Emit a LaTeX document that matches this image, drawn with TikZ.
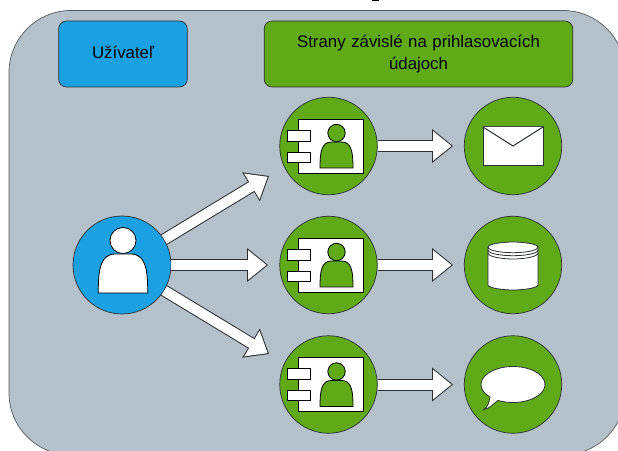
\documentclass[tikz,border=0pt]{standalone}
\usepackage{fontspec}
\setmainfont{Liberation Sans}
\usetikzlibrary{arrows.meta}

\definecolor{sedá}{HTML}{B5C1CA}
\definecolor{modrá}{HTML}{1BA1E2}
\definecolor{zelená}{HTML}{60A917}
\definecolor{obrys}{HTML}{2B2F33}

\tikzstyle{line} = [draw=obrys, line width=12pt, -{Triangle[length=21pt,width=34pt,line width=0pt]}, postaction={draw=white, line width=10pt, shorten >=1.6pt, -{Triangle[length=18.4pt,width=29.8pt,line width=0pt]}}]
\tikzstyle{pozadie} = [draw=obrys!70!sedá, rectangle, fill=sedá, minimum width=616pt, minimum height=444.5pt, rounded corners=62pt, line width=0.7pt]
\tikzstyle{box1} = [draw=obrys, rectangle, fill=modrá, text width=122pt, text centered, minimum height=66pt, rounded corners=8pt, line width=0.7pt, text depth=4pt, font=\fontsize{16.8}{22}\selectfont]
\tikzstyle{box2} = [draw=obrys, rectangle, fill=zelená, text width=302pt, text centered, minimum height=66pt, rounded corners=8pt, line width=0.7pt, font=\fontsize{16.8}{22}\selectfont]
\tikzstyle{krug1} = [draw=obrys, circle, fill=modrá, minimum size=98pt, inner sep=0pt, line width=0.7pt]
\tikzstyle{krug2} = [draw=obrys, circle, fill=zelená, minimum size=97.5pt, inner sep=0pt, line width=0.7pt]
\tikzstyle{ikona} = [draw=black, fill=white, line width=0.8pt]

% osoba: stred uzla, posun, mierka, vypln
\newcommand{\osoba}[4]{
\begin{scope}[shift={(#1.center)}, shift={(#2)}, scale=#3]
\draw [ikona, fill=#4] (0,35) circle (8.7);
\draw [ikona, fill=#4] (-16.5,0) .. controls (-16.5,16) and (-15,26) .. (-5,26) -- (5,26) .. controls (15,26) and (16.5,16) .. (16.5,0) -- cycle;
\end{scope}
}
% strana s prihlasovanim
\newcommand{\strana}[1]{
\begin{scope}[shift={(#1.center)}]
\draw [ikona] (-30.5,-27) rectangle (34.5,27);
\draw [ikona] (-41.5,5) rectangle (-18.5,16);
\draw [ikona] (-41.5,-16) rectangle (-18.5,-6);
\end{scope}
\osoba{#1}{8,-22}{1}{zelená}
}

\begin{document}
\begin{tikzpicture}[x=1pt, y=1pt, node distance=0mm]
\useasboundingbox (0,0) rectangle (618,450);
% pozadie
\node [pozadie] (plocha) at (317,217.25) {};
% zvysok nadpisu nad okrajom
\draw [line width=2pt] (372,449.5) -- (379,449.5);
% hlavicky
\node [box1] (hlava1) at (123,396) {Užívateľ};
\node [box2, right of=hlava1, xshift=295.5pt] (hlava2) {Strany závislé na prihlasovacích\\údajoch};
% prvy stlpec
\node [krug1] (user) at (122,185) {};
% druhy stlpec
\node [krug2, right of=user, xshift=206.5pt, yshift=119pt] (strana1) {};
\node [krug2, right of=user, xshift=206.5pt] (strana2) {};
\node [krug2, right of=user, xshift=206.5pt, yshift=-119.5pt] (strana3) {};
% treti stlpec
\node [krug2, right of=strana1, xshift=184.5pt] (mail) {};
\node [krug2, right of=strana2, xshift=184.5pt] (data) {};
\node [krug2, right of=strana3, xshift=184.5pt] (sprava) {};
% konce sipok
\coordinate [right of=user, xshift=147pt, yshift=89pt] (hrot1);
\coordinate [right of=user, xshift=146pt] (hrot2);
\coordinate [right of=user, xshift=147pt, yshift=-89pt] (hrot3);
\coordinate [left of=mail, xshift=-60pt] (hrot4);
\coordinate [left of=data, xshift=-60pt] (hrot5);
\coordinate [left of=sprava, xshift=-60pt] (hrot6);
% ikony
\osoba{user}{1,-28}{1.5}{white}
\strana{strana1}
\strana{strana2}
\strana{strana3}
% obalka
\begin{scope}[shift={(mail.center)}]
\draw [ikona, draw=obrys, line width=1pt] (-30,-20) rectangle (30,19);
\draw [ikona, draw=obrys, line width=1pt] (-30,19) -- (0,0) -- (30,19);
\end{scope}
% databaza
\begin{scope}[shift={(data.center)}]
\draw [ikona, draw=obrys] (-25,18) -- (-25,-20) .. controls (-25,-23) and (-10,-25) .. (0,-25) .. controls (10,-25) and (25,-23) .. (25,-20) -- (25,18) .. controls (25,21) and (10,23) .. (0,23) .. controls (-10,23) and (-25,21) .. (-25,18) -- cycle;
\draw [obrys, line width=0.8pt] (-25,18) .. controls (-25,14) and (-10,12.3) .. (0,12.3) .. controls (10,12.3) and (25,14) .. (25,18);
\draw [obrys, line width=0.8pt] (-25,15) .. controls (-25,11) and (-10,9.3) .. (0,9.3) .. controls (10,9.3) and (25,11) .. (25,15);
\draw [obrys, line width=0.8pt] (-25,12) .. controls (-25,8) and (-10,6) .. (0,6) .. controls (10,6) and (25,8) .. (25,12);
\end{scope}
% bublina
\begin{scope}[shift={(sprava.center)}]
\draw [ikona, draw=obrys] (-15,-15.9) arc [start angle=242, end angle=584, x radius=32, y radius=18] .. controls (-24,-18) and (-25,-22) .. (-29,-25) .. controls (-24,-24) and (-20,-20) .. cycle;
\end{scope}
%arrows
\path [line] (user) -- (hrot1);
\path [line] (user) -- (hrot2);
\path [line] (user) -- (hrot3);
\path [line] (strana1) -- (hrot4);
\path [line] (strana2) -- (hrot5);
\path [line] (strana3) -- (hrot6);
\end{tikzpicture}
\end{document}
